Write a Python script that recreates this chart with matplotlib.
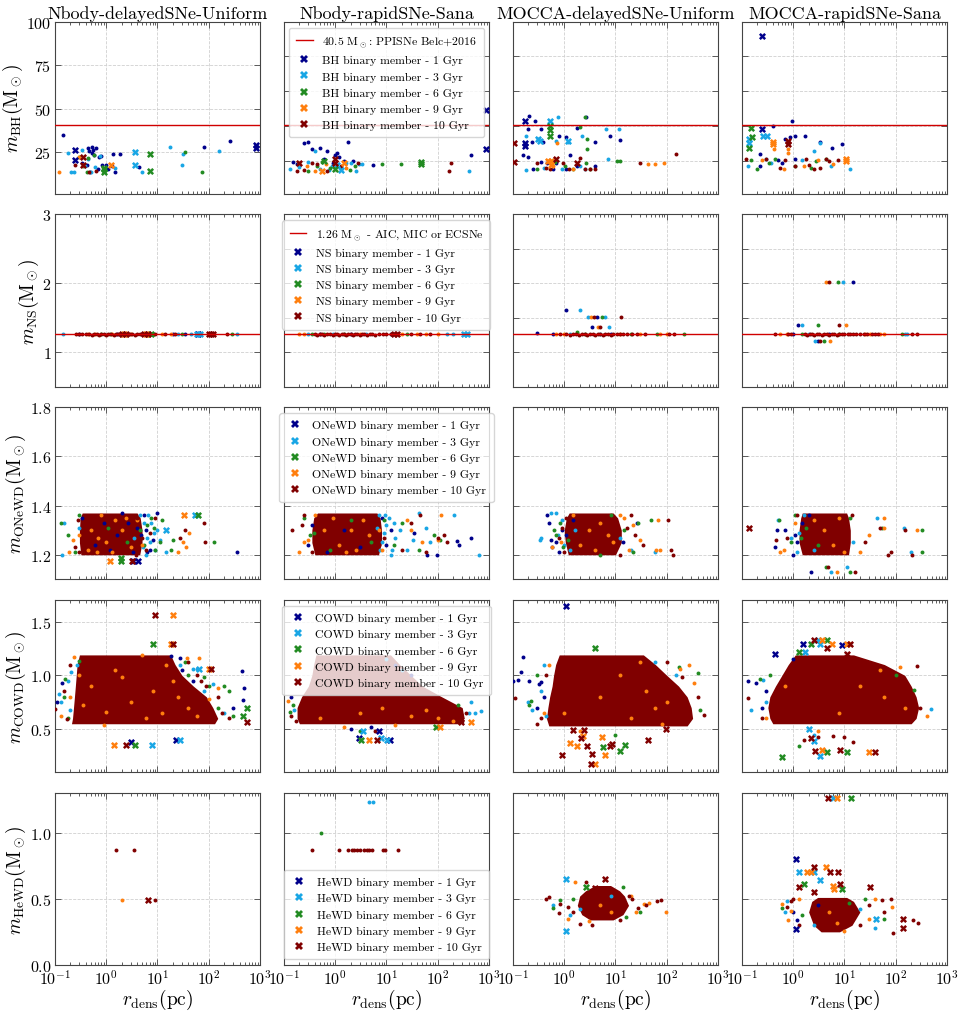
import matplotlib
matplotlib.use("Agg")
import matplotlib.pyplot as plt
from matplotlib.lines import Line2D

plt.rcParams.update({
    "font.family": "serif",
    "font.serif": ["cmr10", "DejaVu Serif"],
    "mathtext.fontset": "cm",
    "axes.formatter.use_mathtext": True,
    "axes.unicode_minus": True,
})

AGES = [1, 3, 6, 9, 10]
AGE_COLORS = ["darkblue", "#19a6e5", "forestgreen", "#ff7f0e", "#800000"]
RUNS = ["Nbody-delayedSNe-Uniform", "Nbody-rapidSNe-Sana",
        "MOCCA-delayedSNe-Uniform", "MOCCA-rapidSNe-Sana"]
OBJECTS = ["BH", "NS", "ONeWD", "COWD", "HeWD"]
Y_LABELS = [r"$m_{\rm BH}(\rm M_\odot)$", r"$m_{\rm NS}(\rm M_\odot)$",
            r"$m_{\rm ONeWD}(\rm M_\odot)$", r"$m_{\rm COWD}(\rm M_\odot)$",
            r"$m_{\rm HeWD}(\rm M_\odot)$"]
Y_LIMITS = [(1, 100), (0.5, 3.0), (1.1, 1.8), (0.1, 1.7), (0.0, 1.3)]
Y_TICKS_FIRST = [[25, 50, 75, 100], [1, 2, 3], [1.2, 1.4, 1.6, 1.8],
                 [0.5, 1.0, 1.5], [0.0, 0.5, 1.0]]
Y_TICKS_OTHER = [[20, 40, 60, 80, 100], [0.5, 1.0, 1.5, 2.0, 2.5, 3.0],
                 [1.2, 1.4, 1.6, 1.8], [0.5, 1.0, 1.5], [0.0, 0.5, 1.0]]
REF_LINES = {0: (40.5, r"40.5 M$_\odot$: PPISNe Belc+2016"),
             1: (1.26, r"1.26 M$_\odot$ - AIC, MIC or ECSNe")}
LEGEND_LOC = ["upper center", "upper center", "upper center", "upper center", "lower center"]

# ---------------- BH ----------------
bh_nbu_dots = {
    1: [(0.146, 34.6), (0.44, 27.3), (0.47, 25.4), (0.52, 27.7), (0.56, 26.2), (0.64, 27.3),
        (0.53, 24.2), (0.59, 23.3), (0.72, 21.9), (0.8, 22.7), (0.34, 18.8), (0.43, 17.7),
        (0.48, 13.8), (0.68, 15.4), (0.83, 17.3), (1.0, 17.5), (1.27, 16.9), (1.38, 23.7),
        (1.5, 13.8), (1.85, 24.0), (4.4, 16.2), (82, 28.1), (257, 31.5), (0.9, 15.5), (1.1, 15.2)],
    3: [(0.18, 24.2), (0.21, 13.7), (0.24, 13.7), (0.34, 26.2), (0.5, 13.7), (0.44, 20.8),
        (0.76, 22.7), (1.5, 15.8), (5.0, 13.7), (17.5, 27.9), (30, 17.3), (32, 24.0),
        (160, 25.4), (0.6, 16.5), (0.38, 17.0)],
    6: [(35, 25.2), (73, 13.3), (0.36, 16.9), (0.58, 23.5), (0.45, 21.5), (0.3, 22.0), (0.42, 13.8)],
    9: [(0.12, 13.7), (0.29, 21.9), (0.36, 17.5)],
    10: [(0.25, 17.5), (0.47, 13.8), (0.62, 14.0)],
}
bh_nbu_cross = {
    1: [(0.25, 26.3), (0.25, 20.4), (830, 29.0), (830, 27.3)],
    3: [(3.7, 25.2), (3.7, 17.3)],
    6: [(7.3, 23.8), (7.3, 14.2), (0.89, 16.0), (0.89, 13.8), (0.92, 15.0)],
    9: [(1.25, 17.5)],
    10: [(0.35, 22.1), (0.35, 17.5)],
}
bh_nrs_dots = {
    1: [(444, 23.1), (0.25, 30.4), (0.3, 30.8), (0.36, 26.9), (0.5, 27.5), (1.1, 24.6), (1.8, 30.8),
        (1.0, 23.3), (5.5, 17.5), (0.15, 19.4), (0.18, 18.0), (0.7, 25.5), (1.2, 22.0), (0.6, 21.0),
        (2.2, 20.0), (1.5, 20.0), (0.9, 19.0)],
    3: [(410, 14.4), (0.13, 15.0), (2.9, 17.9), (0.4, 25.4), (2.6, 14.0), (0.2, 16.5), (0.85, 17.0),
        (1.3, 15.5), (2.0, 18.5), (3.3, 18.0), (0.5, 15.0), (1.6, 19.0), (0.3, 19.5), (0.75, 14.5)],
    6: [(8.2, 17.9), (19, 17.9), (0.55, 19.5), (0.45, 17.0), (0.3, 14.0), (1.9, 14.5), (2.4, 17.0), (0.8, 16.0)],
    9: [(0.2, 19.0), (0.4, 14.0), (0.65, 18.0), (1.6, 16.0), (0.28, 17.0)],
    10: [(180, 18.8), (166, 14.4), (0.18, 14.4), (0.25, 14.6), (0.35, 18.5), (0.7, 14.0), (2.8, 19.0),
         (0.45, 18.0), (1.3, 17.0)],
}
bh_nrs_cross = {
    1: [(870, 49.4), (870, 26.9)],
    3: [(1.1, 17.5), (1.3, 14.5)],
    6: [(48, 19.4), (48, 17.9), (0.6, 20.0), (1.0, 15.0)],
    9: [(1.5, 18.8), (0.55, 14.0)],
    10: [(0.98, 21.0), (0.98, 18.8), (0.2, 18.5)],
}
bh_mdu_dots = {
    1: [(0.21, 45.8), (0.27, 42.9), (0.2, 38.5), (0.16, 23.5), (0.2, 22.1), (0.23, 31.0), (0.25, 15.4),
        (0.36, 38.1), (0.39, 30.8), (0.47, 18.8), (0.8, 34.0), (1.07, 33.5), (1.29, 23.3), (1.75, 39.0),
        (2.7, 45.2), (3.9, 30.8), (7.8, 34.2), (12, 31.7), (0.7, 18.8), (1.75, 16.9), (4.0, 16.9),
        (1.1, 15.0), (0.36, 19.5), (0.6, 15.0)],
    3: [(0.77, 45.4), (0.18, 34.2), (0.31, 32.3), (2.2, 34.2), (6.4, 38.1), (11.5, 38.5), (7.0, 21.2),
        (0.18, 14.6), (0.69, 31.2), (1.2, 30.8), (2.0, 16.9), (0.4, 15.8), (0.9, 15.0), (2.5, 15.0)],
    6: [(2.6, 45.4), (2.0, 39.2), (2.8, 32.3), (2.75, 26.5), (10.6, 19.8), (12.5, 20.0), (1.03, 16.9),
        (0.65, 19.4), (0.3, 15.0), (2.7, 18.8), (3.2, 15.0), (1.5, 15.2)],
    9: [(44, 17.9), (60, 17.9), (90, 18.8), (0.73, 30.0), (1.5, 15.0), (0.6, 17.0)],
    10: [(30, 18.8), (150, 23.7), (2.0, 21.7), (3.2, 15.0), (4.0, 15.0), (2.6, 15.0), (0.95, 18.8),
         (0.29, 18.8), (0.52, 15.0), (0.45, 16.0), (1.25, 15.0)],
}
bh_mdu_cross = {
    1: [(0.17, 42.9), (0.17, 30.0), (0.17, 28.5)],
    3: [(0.52, 42.9), (0.31, 32.3), (0.33, 31.3), (1.2, 31.3)],
    6: [(0.52, 40.0), (0.52, 37.7), (0.52, 34.2)],
    9: [(0.49, 19.8), (0.56, 19.8), (0.55, 17.5)],
    10: [(0.106, 30.0), (0.106, 19.4), (1.75, 18.8), (0.7, 20.8)],
}
bh_mrs_dots = {
    1: [(0.95, 42.7), (0.4, 40.0), (0.69, 32.3), (0.86, 33.6), (1.07, 34.2), (1.7, 34.2), (3.3, 30.8),
        (5.8, 27.1), (9.0, 29.4), (0.22, 23.7), (0.6, 18.8), (0.22, 16.9), (1.1, 20.8), (0.5, 20.5)],
    3: [(3.4, 30.4), (2.5, 25.5), (13, 15.4), (0.13, 16.9), (0.37, 18.8), (5.5, 16.9), (1.5, 20.5), (0.3, 20.8)],
    6: [(0.2, 15.0), (0.33, 18.8), (1.1, 16.9), (4.3, 20.8), (2.8, 19.8), (0.15, 20.5), (0.45, 20.8), (2.2, 16.0)],
    9: [(0.42, 26.9), (0.8, 26.9), (0.8, 24.2), (6.0, 17.9), (0.65, 15.5), (1.6, 17.0), (3.0, 20.5), (0.25, 20.5)],
    10: [(0.12, 20.8), (1.1, 16.9), (2.5, 15.0), (3.4, 16.0), (4.3, 20.8), (0.3, 21.0), (0.7, 20.5),
         (1.8, 21.0), (5.0, 20.0), (7.5, 20.5), (0.55, 16.0), (2.0, 17.5)],
}
bh_mrs_cross = {
    1: [(0.25, 92.0), (0.25, 38.1)],
    3: [(0.135, 32.3), (0.135, 30.4), (0.26, 34.2), (0.31, 34.2)],
    6: [(0.15, 39.0), (0.16, 33.6), (0.135, 27.5)],
    9: [(0.4, 30.8), (0.4, 29.5), (10.5, 20.8), (10.5, 19.8)],
    10: [(0.8, 31.3), (0.8, 29.4)],
}

# ---------------- NS ----------------
ns_nbu_dots = {
    1: [(0.3, 1.26), (5.0, 1.26), (20, 1.26), (35, 1.26), (1.6, 1.26)],
    3: [(0.146, 1.26), (25, 1.26), (45, 1.26), (360, 1.26), (2.2, 1.26)],
    6: [(0.8, 1.26), (8.0, 1.26), (30, 1.26), (290, 1.26), (1.2, 1.26)],
    9: [(0.6, 1.26), (3.0, 1.26), (12, 1.26), (18, 1.26), (1.3, 1.26), (0.45, 1.26)],
    10: [(0.26, 1.26), (0.3, 1.26), (0.34, 1.26), (0.4, 1.26), (0.46, 1.26), (0.52, 1.25), (0.58, 1.27),
         (0.65, 1.26), (0.72, 1.25), (0.8, 1.27), (0.9, 1.26), (1.0, 1.25), (1.1, 1.27), (1.25, 1.26),
         (1.4, 1.25), (1.55, 1.27), (1.7, 1.26), (1.9, 1.25), (2.1, 1.27), (2.35, 1.26), (2.6, 1.25),
         (2.9, 1.27), (3.2, 1.26), (3.6, 1.25), (4.0, 1.27), (4.5, 1.26), (5.6, 1.26), (6.3, 1.25),
         (7.0, 1.26), (9.0, 1.26), (14, 1.26), (22, 1.26), (224, 1.26)],
}
ns_nbu_cross = {
    1: [(63, 1.26)],
    3: [(58, 1.26), (68, 1.26)],
    6: [(7.5, 1.26)],
    9: [(2.2, 1.26), (6.0, 1.26)],
    10: [(2.0, 1.26), (2.4, 1.26), (5.5, 1.26), (6.5, 1.26), (100, 1.26), (110, 1.26), (120, 1.26)],
}
ns_nrs_dots = {
    1: [(0.5, 1.26), (2.0, 1.26), (12, 1.26)],
    3: [(0.3, 1.26), (150, 1.26), (200, 1.26), (4.0, 1.26), (0.9, 1.26)],
    6: [(0.35, 1.26), (1.5, 1.26), (25, 1.26), (0.6, 1.26)],
    9: [(0.2, 1.26), (0.25, 1.26), (40, 1.26), (60, 1.26), (100, 1.26), (20, 1.26), (3.0, 1.26)],
    10: [(0.4, 1.26), (0.45, 1.25), (0.5, 1.27), (0.55, 1.26), (0.6, 1.25), (0.7, 1.27), (0.8, 1.26),
         (0.9, 1.25), (1.0, 1.27), (1.1, 1.26), (1.2, 1.25), (1.35, 1.27), (1.5, 1.26), (1.65, 1.25),
         (1.8, 1.27), (2.0, 1.26), (2.2, 1.25), (2.4, 1.27), (2.7, 1.26), (3.0, 1.25), (3.3, 1.27),
         (3.7, 1.26), (4.2, 1.25), (4.7, 1.27), (5.3, 1.26), (6.0, 1.25), (7.0, 1.26), (8.5, 1.26),
         (10, 1.26), (12, 1.26), (30, 1.26), (45, 1.26), (70, 1.26)],
}
ns_nrs_cross = {
    3: [(330, 1.26), (380, 1.26)],
    10: [(14, 1.26), (16, 1.26)],
}
ns_mdu_dots = {
    1: [(0.29, 1.28), (1.08, 1.615), (4.4, 1.51), (0.6, 1.26), (8.0, 1.27), (3.5, 1.37)],
    3: [(2.03, 1.615), (2.95, 1.51), (6.2, 1.51), (7.6, 1.37), (5.0, 1.26), (1.3, 1.26)],
    6: [(5.4, 1.51), (1.75, 1.30), (64, 1.26), (215, 1.26), (20, 1.27), (2.5, 1.27)],
    9: [(3.33, 1.51), (4.6, 1.37), (75, 1.26), (100, 1.26), (0.7, 1.26), (1.0, 1.26), (12, 1.26), (30, 1.26)],
    10: [(3.86, 1.51), (13.1, 1.51), (5.0, 1.37), (0.82, 1.26), (1.1, 1.26), (1.3, 1.25), (1.5, 1.27),
         (1.7, 1.26), (1.9, 1.25), (2.2, 1.27), (2.5, 1.26), (2.8, 1.25), (3.2, 1.27), (3.6, 1.26),
         (4.0, 1.25), (4.5, 1.27), (5.0, 1.26), (5.6, 1.25), (6.3, 1.27), (7.0, 1.26), (8.0, 1.25),
         (9.0, 1.26), (10.5, 1.26), (12, 1.26), (14, 1.26), (17, 1.26), (21, 1.26), (26, 1.26),
         (38, 1.26), (110, 1.26), (140, 1.26)],
}
ns_mdu_cross = {}
ns_mrs_dots = {
    1: [(14.6, 2.02), (1.25, 1.39), (3.1, 1.16), (1.0, 1.26), (5.0, 1.26)],
    3: [(9.5, 2.02), (1.5, 1.39), (2.65, 1.16), (166, 1.26), (150, 1.26), (2.0, 1.26)],
    6: [(7.6, 2.02), (3.0, 1.39), (4.0, 1.16), (133, 1.26), (1.5, 1.26), (8.0, 1.26)],
    9: [(4.4, 2.02), (10.6, 1.39), (5.2, 1.16), (0.55, 1.26), (0.74, 1.26), (25, 1.26), (32, 1.26),
        (50, 1.26), (60, 1.26)],
    10: [(4.9, 2.02), (8.0, 1.39), (3.4, 1.16), (0.45, 1.26), (0.8, 1.26), (0.9, 1.26), (1.7, 1.26),
         (1.9, 1.25), (2.1, 1.27), (2.3, 1.26), (2.6, 1.25), (2.9, 1.27), (3.2, 1.26), (3.6, 1.25),
         (4.0, 1.27), (4.5, 1.26), (5.0, 1.25), (5.6, 1.27), (6.3, 1.26), (7.0, 1.25), (8.0, 1.27),
         (9.0, 1.26), (10, 1.26), (11.5, 1.26), (13, 1.26), (15, 1.26), (17, 1.26), (20, 1.26),
         (24, 1.26), (28, 1.26), (35, 1.26), (40, 1.26), (45, 1.26), (210, 1.26), (260, 1.26)],
}
ns_mrs_cross = {}

# ---------------- ONeWD ----------------
onewd_nbu_core = ([1.2, 1.25, 1.3, 1.35, 1.37], [0.32, 0.3, 0.3, 0.31, 0.34], [4.5, 5.0, 5.0, 4.6, 4.0])
onewd_nbu_dots = {
    1: [(0.34, 1.35), (9.9, 1.37), (2.7, 1.33), (4.0, 1.31), (7.3, 1.22), (6.3, 1.21), (350, 1.21),
        (2.0, 1.37), (5.5, 1.36), (1.2, 1.22), (0.6, 1.24), (4.8, 1.28), (3.3, 1.21), (6.0, 1.3),
        (8.0, 1.26), (0.9, 1.33), (1.6, 1.28)],
    3: [(0.14, 1.2), (0.15, 1.33), (8.5, 1.29), (6.3, 1.27), (10, 1.3), (11, 1.26), (15, 1.21),
        (7.0, 1.25), (5.5, 1.33), (4.5, 1.36), (0.3, 1.31), (6.5, 1.36), (5.2, 1.23), (7.5, 1.33),
        (9.0, 1.22), (3.5, 1.27), (6.0, 1.2)],
    6: [(0.13, 1.33), (0.18, 1.28), (0.3, 1.36), (6.3, 1.32), (7.5, 1.35), (11, 1.25), (124, 1.25),
        (20, 1.26), (18, 1.22), (0.25, 1.21), (4.5, 1.3), (12, 1.34), (9.0, 1.22), (2.5, 1.25),
        (1.1, 1.31), (5.5, 1.24), (8.5, 1.31)],
    9: [(0.19, 1.21), (0.29, 1.28), (41, 1.29), (32, 1.25), (36, 1.23), (2.0, 1.3), (1.0, 1.25),
        (1.5, 1.34), (3.0, 1.23), (0.8, 1.36), (0.65, 1.21), (5.0, 1.24), (25, 1.21), (0.22, 1.26),
        (0.5, 1.3), (0.7, 1.27), (1.3, 1.21), (2.4, 1.35), (0.45, 1.22), (4.0, 1.34)],
    10: [(81, 1.33), (83, 1.25), (35, 1.3), (28, 1.27), (0.25, 1.23), (0.3, 1.21), (0.28, 1.34),
         (4.0, 1.35), (5.0, 1.27), (6.0, 1.22), (3.8, 1.2), (0.35, 1.3), (7.0, 1.29), (9.0, 1.35)],
}
onewd_nbu_cross = {
    1: [(4.2, 1.175), (3.4, 1.175)],
    3: [(14.8, 1.3), (54, 1.36)],
    6: [(1.97, 1.175), (1.97, 1.185), (63, 1.36)],
    9: [(1.16, 1.175), (33, 1.36)],
    10: [(3.2, 1.175)],
}
onewd_nrs_core = ([1.2, 1.25, 1.3, 1.35, 1.37], [0.4, 0.35, 0.35, 0.38, 0.45], [7.0, 8.0, 8.0, 7.5, 6.5])
onewd_nrs_dots = {
    1: [(440, 1.27), (260, 1.24), (240, 1.255), (98, 1.2), (62, 1.2), (34, 1.29), (10, 1.24), (12, 1.3),
        (8.0, 1.35), (0.35, 1.32), (0.3, 1.24), (0.7, 1.21), (1.5, 1.3), (3.0, 1.23)],
    3: [(210, 1.36), (630, 1.2), (72, 1.25), (8.0, 1.25), (9.0, 1.29), (10, 1.32), (11, 1.35), (13, 1.22),
        (15, 1.27), (18, 1.3), (25, 1.22), (44, 1.37), (33, 1.26), (60, 1.31), (7.0, 1.36), (12, 1.2),
        (6.5, 1.31), (7.5, 1.22), (9.5, 1.36), (14, 1.33)],
    6: [(85, 1.28), (43, 1.22), (0.32, 1.28), (0.38, 1.29), (20, 1.33), (14, 1.24), (0.25, 1.35),
        (9.0, 1.34), (110, 1.26), (2.0, 1.34), (5.0, 1.25), (0.8, 1.22)],
    9: [(0.25, 1.25), (0.3, 1.26), (115, 1.36), (0.2, 1.21), (30, 1.3), (25, 1.34), (50, 1.25),
        (8.0, 1.22), (7.0, 1.3), (100, 1.26), (0.4, 1.36), (2.0, 1.3), (1.2, 1.24), (3.5, 1.34),
        (0.6, 1.3), (0.9, 1.35), (1.6, 1.21), (4.5, 1.28), (2.6, 1.22)],
    10: [(0.146, 1.3), (0.22, 1.32), (0.25, 1.36), (100, 1.27), (46, 1.36), (30, 1.33), (130, 1.28),
         (150, 1.25), (7.0, 1.24), (9.0, 1.27), (60, 1.21), (20, 1.22), (0.35, 1.21)],
}
onewd_nrs_cross = {}
onewd_mdu_core = ([1.2, 1.25, 1.3, 1.35, 1.37], [1.2, 1.05, 1.0, 1.1, 1.25], [10, 13, 13, 11, 9.0])
onewd_mdu_dots = {
    1: [(0.46, 1.36), (0.5, 1.33), (0.55, 1.26), (0.58, 1.23), (26, 1.33), (0.9, 1.3), (0.8, 1.21),
        (1.1, 1.28), (14, 1.25), (1.5, 1.34), (0.7, 1.25)],
    3: [(0.33, 1.26), (0.36, 1.27), (0.56, 1.37), (0.69, 1.37), (58, 1.21), (0.9, 1.34), (1.0, 1.24),
        (12, 1.27), (0.75, 1.28), (20, 1.22), (1.3, 1.22), (1.6, 1.3)],
    6: [(0.63, 1.3), (0.7, 1.28), (0.82, 1.33), (28, 1.33), (5.0, 1.2), (22, 1.21), (0.95, 1.23),
        (15, 1.3), (50, 1.34), (1.2, 1.26), (8.0, 1.36)],
    9: [(0.58, 1.23), (69, 1.34), (63, 1.22), (75, 1.22), (30, 1.26), (22, 1.32), (15, 1.35),
        (0.85, 1.25), (18, 1.22), (12, 1.36), (3.0, 1.3), (2.0, 1.24), (5.0, 1.33), (4.0, 1.22),
        (7.0, 1.28), (1.5, 1.36), (9.0, 1.25)],
    10: [(105, 1.34), (120, 1.22), (130, 1.2), (35, 1.24), (24, 1.28), (17, 1.31), (12, 1.2),
         (0.8, 1.27), (1.0, 1.21), (1.1, 1.35), (20, 1.36), (0.9, 1.31)],
}
onewd_mdu_cross = {}
onewd_mrs_core = ([1.2, 1.25, 1.3, 1.35, 1.37], [1.5, 1.3, 1.3, 1.4, 1.5], [12, 13, 13, 12, 11])
onewd_mrs_dots = {
    1: [(0.44, 1.23), (0.49, 1.3), (0.7, 1.3), (2.2, 1.13), (1.2, 1.25), (1.5, 1.33), (1.0, 1.2),
        (1.1, 1.28), (2.0, 1.36)],
    3: [(0.5, 1.34), (5.5, 1.13), (11, 1.15), (144, 1.31), (200, 1.21), (44, 1.35), (1.3, 1.29),
        (1.2, 1.21), (15, 1.25), (1.6, 1.36), (0.9, 1.27), (2.5, 1.22)],
    6: [(0.53, 1.34), (4.3, 1.15), (12.9, 1.13), (320, 1.21), (330, 1.3), (55, 1.31), (1.4, 1.27),
        (0.9, 1.25), (13, 1.35), (1.8, 1.31), (1.1, 1.36), (3.0, 1.24)],
    9: [(7.1, 1.13), (265, 1.3), (60, 1.35), (60, 1.31), (30, 1.28), (20, 1.21), (0.65, 1.22),
        (1.1, 1.33), (0.55, 1.21), (4.0, 1.3), (6.0, 1.24), (8.0, 1.35), (2.5, 1.34), (10, 1.21)],
    10: [(0.46, 1.26), (4.7, 1.15), (16.2, 1.13), (150, 1.3), (210, 1.2), (70, 1.2), (80, 1.21),
         (50, 1.31), (25, 1.25), (0.75, 1.27), (1.2, 1.36), (14, 1.36)],
}
onewd_mrs_cross = {10: [(0.14, 1.31)]}

# ---------------- COWD ----------------
cowd_nbu_core = ([0.55, 0.6, 0.7, 0.8, 0.9, 1.0, 1.1, 1.19],
                 [0.21, 0.22, 0.23, 0.24, 0.25, 0.26, 0.27, 0.3],
                 [130, 150, 120, 90, 50, 30, 22, 18])
cowd_nbu_dots = {
    1: [(0.135, 0.93), (440, 1.04), (490, 0.88), (470, 0.77), (18.5, 1.18), (28, 1.16), (0.11, 0.75),
        (30, 1.05), (300, 0.7), (50, 0.95)],
    3: [(0.12, 0.83), (0.13, 0.75), (0.21, 1.03), (0.27, 1.1), (50, 1.06), (60, 1.06), (28, 1.1),
        (200, 0.65), (120, 0.92), (0.2, 0.68), (0.18, 0.95), (80, 0.85)],
    6: [(0.16, 0.97), (0.3, 1.13), (35, 1.12), (200, 0.9), (250, 0.85), (150, 0.7), (80, 0.98),
        (0.18, 0.6), (300, 0.62), (0.15, 0.8), (40, 1.0), (100, 0.9)],
    9: [(0.13, 0.62), (0.23, 1.17), (38, 1.16), (66, 1.16), (150, 0.88), (100, 0.78), (60, 0.62),
        (0.2, 0.8), (0.9, 0.54), (5.0, 1.19), (20, 0.95), (3.0, 0.75), (1.5, 1.05), (40, 0.7),
        (0.35, 0.72), (0.5, 0.9), (1.0, 0.66), (2.0, 0.98), (8.0, 0.85), (12, 0.65), (25, 0.8),
        (0.3, 1.0), (6.0, 0.6), (15, 1.1)],
    10: [(0.1, 0.69), (0.17, 0.59), (0.15, 0.85), (110, 1.06), (90, 0.9), (150, 0.8), (180, 0.65),
         (250, 0.6), (60, 1.0), (40, 1.12), (0.2, 1.1), (70, 0.95)],
}
cowd_nbu_cross = {
    1: [(3.1, 0.38), (23, 0.4)],
    3: [(7.9, 0.35), (27, 0.4), (64, 1.06)],
    6: [(8.2, 1.287), (3.7, 0.35), (556, 0.7), (460, 0.62)],
    9: [(20, 1.565), (18, 1.287), (1.39, 0.35), (99, 1.06)],
    10: [(9.1, 1.565), (20, 1.287), (2.4, 0.35), (556, 0.57), (110, 1.06)],
}
cowd_nrs_core = ([0.55, 0.6, 0.7, 0.8, 0.9, 1.0, 1.1, 1.19],
                 [0.2, 0.18, 0.18, 0.22, 0.3, 0.35, 0.38, 0.42],
                 [250, 330, 300, 120, 50, 30, 18, 12])
cowd_nrs_dots = {
    1: [(0.14, 0.8), (2.0, 0.5), (5.0, 0.52), (30, 1.0), (15, 1.1)],
    3: [(700, 0.67), (530, 0.65), (410, 0.65), (440, 0.75), (0.16, 0.68), (10, 1.15), (20, 1.05)],
    6: [(0.15, 0.72), (0.13, 0.66), (250, 0.72), (3.0, 0.48)],
    9: [(0.12, 0.76), (200, 0.58), (100, 0.6), (1.5, 0.52), (15, 0.54), (3.0, 0.65), (30, 0.62),
        (0.5, 0.6), (8.0, 0.7), (60, 0.68)],
    10: [(0.14, 0.62), (0.17, 0.58), (350, 0.65), (300, 0.58), (6.0, 0.48)],
}
cowd_nrs_cross = {
    1: [(2.86, 0.42), (7.0, 0.48), (11.6, 0.4)],
    3: [(3.5, 0.48), (7.9, 0.42), (10.2, 0.4)],
    6: [(3.2, 0.4), (92, 0.52)],
    9: [(4.5, 0.4), (110, 0.52), (444, 0.57)],
    10: [(6.6, 0.4), (280, 0.57)],
}
cowd_mdu_core = ([0.53, 0.6, 0.7, 0.8, 0.9, 1.0, 1.1, 1.19],
                 [0.5, 0.45, 0.48, 0.52, 0.58, 0.62, 0.68, 0.8],
                 [250, 320, 300, 250, 170, 100, 60, 35])
cowd_mdu_dots = {
    1: [(0.16, 1.17), (0.146, 1.03), (0.125, 0.96), (0.1, 0.95), (0.21, 0.95), (0.32, 0.92),
        (0.35, 0.94), (0.4, 0.8), (0.3, 0.7)],
    3: [(0.2, 0.75), (0.23, 0.68), (0.4, 1.1), (0.45, 0.62), (150, 1.0), (60, 1.12), (0.35, 0.85)],
    6: [(0.21, 0.72), (0.22, 0.76), (410, 1.02), (450, 0.68), (170, 1.08), (0.3, 1.0), (10, 0.45)],
    9: [(270, 1.1), (340, 0.93), (180, 1.06), (0.5, 1.1), (0.4, 0.65), (80, 0.55), (30, 1.12),
        (2.0, 0.48), (40, 0.85), (60, 0.7), (5.0, 0.8), (12, 1.0), (100, 0.75), (1.0, 0.65), (20, 0.6)],
    10: [(0.108, 0.79), (530, 0.63), (200, 0.98), (400, 0.8), (0.35, 0.6), (0.3, 0.55), (100, 1.12),
         (0.45, 1.0)],
}
cowd_mdu_cross = {
    1: [(1.06, 1.64)],
    6: [(3.9, 1.25), (5.8, 0.33), (12.5, 0.3), (15.6, 0.35)],
    9: [(1.3, 0.37), (1.8, 0.34), (3.9, 0.18), (5.5, 0.43), (6.2, 0.26), (2.3, 0.44)],
    10: [(1.5, 0.49), (2.1, 0.42), (2.8, 0.34), (3.5, 0.27), (3.3, 0.18), (7.8, 0.34), (8.5, 0.36),
         (0.91, 0.26), (44, 0.4), (98, 0.5), (2.4, 0.49)],
}
cowd_mrs_core = ([0.55, 0.6, 0.7, 0.8, 0.9, 1.0, 1.1, 1.19],
                 [0.4, 0.35, 0.32, 0.35, 0.45, 0.6, 0.8, 1.1],
                 [200, 250, 280, 250, 200, 150, 60, 15])
cowd_mrs_dots = {
    1: [(0.13, 0.95), (0.19, 0.93), (0.3, 0.85), (0.25, 0.7), (1.0, 1.15)],
    3: [(0.15, 0.68), (0.26, 0.96), (480, 0.69), (0.3, 0.75), (2.5, 0.45)],
    6: [(0.22, 0.97), (230, 0.86), (1.3, 0.34), (0.35, 1.0), (100, 1.0)],
    9: [(400, 0.62), (120, 1.08), (0.3, 0.6), (50, 1.05), (3.0, 0.48), (60, 0.8), (20, 0.9),
        (0.7, 0.9), (150, 0.7), (8.0, 0.65)],
    10: [(0.13, 0.79), (260, 1.09), (300, 0.7), (1.6, 0.4), (3.0, 0.43), (6.0, 0.44), (10, 0.43),
         (15, 0.38), (0.25, 0.6)],
}
cowd_mrs_cross = {
    1: [(0.44, 1.2), (1.57, 1.29), (8.8, 1.28)],
    3: [(3.1, 1.33), (3.3, 1.29), (1.7, 1.22), (2.0, 0.5), (2.5, 0.39), (3.3, 0.25)],
    6: [(1.27, 1.22), (2.2, 1.29), (4.6, 1.33), (0.61, 0.24), (4.5, 0.29), (11, 0.29)],
    9: [(3.6, 1.33), (5.6, 1.29), (11, 1.29), (3.6, 0.31), (30, 0.29)],
    10: [(2.5, 1.33), (4.5, 1.25), (13, 1.29), (11, 1.2), (2.7, 0.3), (8.2, 0.31), (39, 0.29), (2.2, 0.42)],
}

# ---------------- HeWD ----------------
hewd_nbu_dots = {
    9: [(2.05, 0.49)],
    10: [(1.55, 0.865), (3.5, 0.865), (9.0, 0.49)],
}
hewd_nbu_cross = {10: [(6.6, 0.487)]}
hewd_nrs_dots = {
    3: [(4.5, 1.23), (5.5, 1.23)],
    6: [(0.53, 1.0)],
    10: [(0.36, 0.865), (1.2, 0.865), (1.8, 0.865), (2.1, 0.865), (2.35, 0.865), (2.65, 0.865),
         (3.0, 0.865), (3.7, 0.865), (4.2, 0.865), (4.6, 0.865), (5.2, 0.865), (8.6, 0.865),
         (9.5, 0.865), (16.6, 0.865)],
}
hewd_nrs_cross = {}
hewd_mdu_core = ([0.34, 0.38, 0.45, 0.52, 0.56, 0.6], [3.2, 2.2, 1.8, 2.0, 2.6, 4.0], [9, 14, 18, 15, 12, 8])
hewd_mdu_dots = {
    3: [(0.6, 0.45), (2.0, 0.42), (8.0, 0.52), (1.3, 0.38)],
    6: [(13.9, 0.59), (0.82, 0.49), (0.6, 0.43), (16, 0.36), (30, 0.4), (1.5, 0.5)],
    9: [(1.6, 0.625), (98, 0.4), (46, 0.47), (36, 0.46), (20, 0.52), (25, 0.4), (1.2, 0.35), (3.0, 0.33),
        (5.0, 0.45), (8.0, 0.4)],
    10: [(2.65, 0.625), (0.45, 0.5), (0.5, 0.51), (0.82, 0.46), (0.79, 0.39), (1.2, 0.44), (1.5, 0.4),
         (78, 0.49), (65, 0.48), (21, 0.5), (28, 0.43), (40, 0.45), (2.0, 0.31), (3.5, 0.3), (12, 0.34),
         (18, 0.52)],
}
hewd_mdu_cross = {
    3: [(1.08, 0.648), (1.08, 0.26)],
    6: [(2.7, 0.59)],
    10: [(6.3, 0.648), (4.0, 0.58)],
}
hewd_mrs_core = ([0.25, 0.3, 0.4, 0.48, 0.51], [3.5, 2.5, 2.0, 2.3, 3.0], [8, 14, 20, 15, 11])
hewd_mrs_dots = {
    1: [(1.2, 0.34), (1.0, 0.4), (3.0, 0.45)],
    3: [(0.74, 0.48), (40, 0.28), (2.5, 0.3), (0.7, 0.4), (20, 0.42)],
    6: [(0.6, 0.43), (1.5, 0.38), (25, 0.5), (12, 0.47), (60, 0.35)],
    9: [(0.6, 0.46), (0.8, 0.34), (85, 0.44), (40, 0.5), (1.3, 0.5), (30, 0.35), (0.9, 0.41), (10, 0.26),
        (5.0, 0.4), (7.0, 0.32)],
    10: [(219, 0.34), (270, 0.32), (90, 0.24), (80, 0.5), (55, 0.49), (0.9, 0.48), (0.75, 0.44),
         (1.3, 0.3), (30, 0.45), (60, 0.4), (20, 0.3), (1.0, 0.5)],
}
hewd_mrs_cross = {
    1: [(1.15, 0.8), (1.13, 0.27)],
    3: [(6.0, 1.26), (1.3, 0.7), (2.6, 0.7), (3.3, 0.64), (41, 0.35)],
    6: [(13.3, 1.26), (1.6, 0.61), (8.8, 0.57)],
    9: [(7.3, 1.26), (1.9, 0.7), (2.2, 0.7), (4.4, 0.74), (6.1, 0.6), (6.3, 0.57)],
    10: [(4.7, 1.26), (2.6, 0.74), (5.3, 0.7), (7.5, 0.7), (1.3, 0.59), (2.6, 0.55), (8.3, 0.61),
         (31, 0.59), (139, 0.35), (139, 0.28)],
}

PANELS = [
    [(bh_nbu_dots, bh_nbu_cross, None), (bh_nrs_dots, bh_nrs_cross, None),
     (bh_mdu_dots, bh_mdu_cross, None), (bh_mrs_dots, bh_mrs_cross, None)],
    [(ns_nbu_dots, ns_nbu_cross, None), (ns_nrs_dots, ns_nrs_cross, None),
     (ns_mdu_dots, ns_mdu_cross, None), (ns_mrs_dots, ns_mrs_cross, None)],
    [(onewd_nbu_dots, onewd_nbu_cross, onewd_nbu_core), (onewd_nrs_dots, onewd_nrs_cross, onewd_nrs_core),
     (onewd_mdu_dots, onewd_mdu_cross, onewd_mdu_core), (onewd_mrs_dots, onewd_mrs_cross, onewd_mrs_core)],
    [(cowd_nbu_dots, cowd_nbu_cross, cowd_nbu_core), (cowd_nrs_dots, cowd_nrs_cross, cowd_nrs_core),
     (cowd_mdu_dots, cowd_mdu_cross, cowd_mdu_core), (cowd_mrs_dots, cowd_mrs_cross, cowd_mrs_core)],
    [(hewd_nbu_dots, hewd_nbu_cross, None), (hewd_nrs_dots, hewd_nrs_cross, None),
     (hewd_mdu_dots, hewd_mdu_cross, hewd_mdu_core), (hewd_mrs_dots, hewd_mrs_cross, hewd_mrs_core)],
]


def scatter_by_age(ax, points, marker, size, zorder):
    for age, color in zip(AGES, AGE_COLORS):
        pts = points.get(age, [])
        if not pts:
            continue
        xs = [p[0] for p in pts]
        ys = [p[1] for p in pts]
        ax.scatter(xs, ys, s=size, marker=marker, color=color, linewidths=0, zorder=zorder)


fig, axes = plt.subplots(5, 4, figsize=(9.61, 10.12), dpi=100)
fig.subplots_adjust(left=0.0572, right=0.9854, top=0.9776, bottom=0.0455, wspace=0.117, hspace=0.12)

for r in range(5):
    for c in range(4):
        ax = axes[r, c]
        dots, cross, core = PANELS[r][c]
        if core is not None:
            # densely packed region of 10 Gyr points
            ax.fill_betweenx(core[0], core[1], core[2], color=AGE_COLORS[-1], linewidth=0, zorder=2)
        scatter_by_age(ax, dots, "o", 8, 3)
        scatter_by_age(ax, cross, "X", 26, 4)
        if r in REF_LINES:
            ax.axhline(REF_LINES[r][0], color="#d00000", lw=1.0, zorder=5)

        ax.set_xscale("log")
        ax.set_xlim(0.1, 1000)
        ax.set_xticks([0.1, 1, 10, 100, 1000])
        if c == 0:
            ax.set_yticks(Y_TICKS_FIRST[r])
            ax.set_ylabel(Y_LABELS[r], fontsize=14, labelpad=1)
        else:
            ax.set_yticks(Y_TICKS_OTHER[r])
            ax.tick_params(labelleft=False)
        ax.set_ylim(*Y_LIMITS[r])
        if r < 4:
            ax.tick_params(labelbottom=False)
        else:
            ax.set_xlabel(r"$r_{\rm dens}(\rm pc)$", fontsize=14, labelpad=0)
        if r == 0:
            ax.set_title(RUNS[c], fontsize=13, pad=3)

        ax.tick_params(which="both", direction="in", top=True, right=True, labelsize=11.5,
                       width=0.6, color="#444444", pad=2.5)
        ax.tick_params(which="major", length=4)
        ax.tick_params(which="minor", length=2)
        ax.grid(True, which="major", ls="--", lw=0.6, color="#d0d0d0")
        ax.set_axisbelow(True)
        for sp in ax.spines.values():
            sp.set_linewidth(0.8)
            sp.set_color("#444444")

    # legend in the second column
    handles, labels = [], []
    if r in REF_LINES:
        handles.append(Line2D([], [], color="#d00000", lw=1.0))
        labels.append(REF_LINES[r][1])
    for age, color in zip(AGES, AGE_COLORS):
        handles.append(Line2D([], [], ls="", marker="X", color=color, ms=5.5, markeredgewidth=0))
        labels.append(f"{OBJECTS[r]} binary member - {age} Gyr")
    axes[r, 1].legend(handles, labels, loc=LEGEND_LOC[r], fontsize=8.5, handlelength=1.4,
                      framealpha=0.8, edgecolor="#cccccc", borderpad=0.6)

fig.savefig("out.png", dpi=100)
